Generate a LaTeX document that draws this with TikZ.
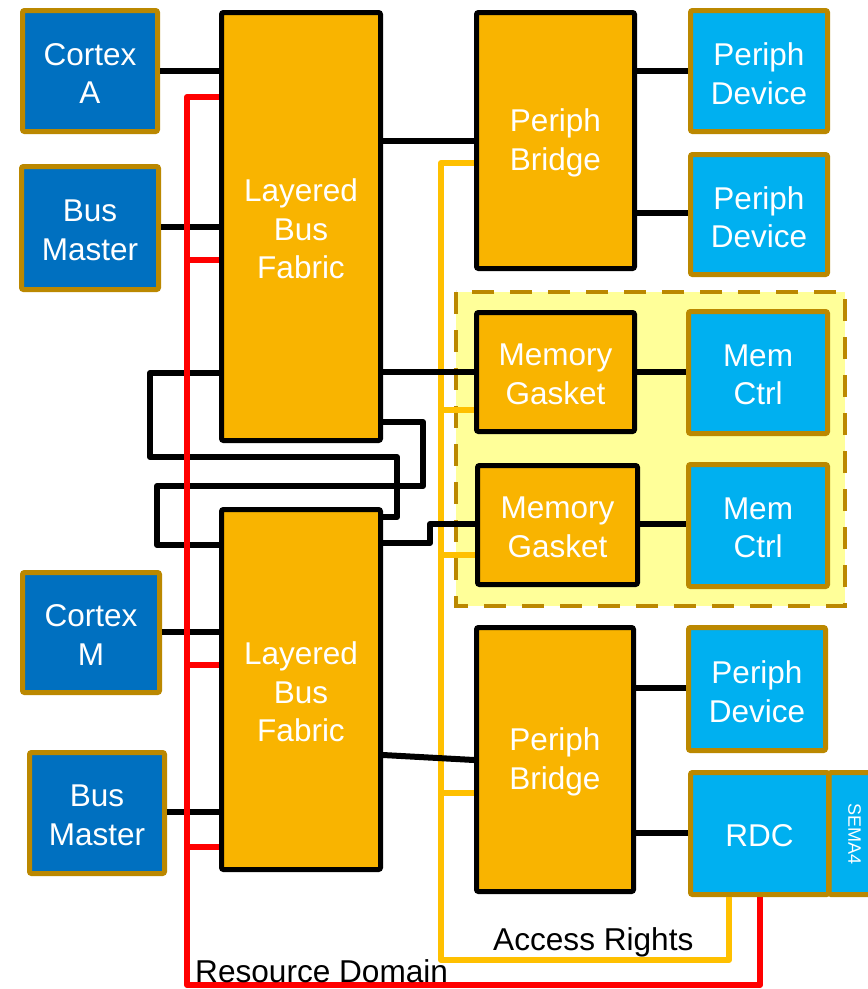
\documentclass[tikz,border=0pt]{standalone}
\usepackage{fontspec}
\setmainfont{Liberation Sans}
\definecolor{cpublue}{HTML}{0070C0}
\definecolor{perblue}{HTML}{00B0F0}
\definecolor{orng}{HTML}{F9B400}
\definecolor{brn}{HTML}{BB8800}
\definecolor{ltyel}{HTML}{FFFF99}
\definecolor{accy}{HTML}{FFC000}
\newcommand{\bxfont}{\fontsize{31.5}{38.5}\selectfont}
\newcommand{\lbfont}{\fontsize{31.6}{36}\selectfont}
\newcommand{\smfont}{\fontsize{18}{20}\selectfont}
\begin{document}
\begin{tikzpicture}[x=1pt,y=-1pt,
  box/.style={line width=5pt, rounded corners=2pt, inner sep=0pt},
  bt/.style={align=center, font=\bxfont, text=white, inner sep=0pt, yshift=-2.5pt},
  cpu/.style={box, draw=brn, fill=cpublue},
  per/.style={box, draw=brn, fill=perblue},
  fab/.style={box, draw=black, fill=orng},
  bus/.style={draw=black, line width=6pt, line join=round},
  rd/.style={draw=red, line width=6pt, line join=round},
  ar/.style={draw=accy, line width=6pt, line join=round},
  lbl/.style={font=\lbfont, text=black, inner sep=0pt}]
\useasboundingbox (0,0) rectangle (868,989);
\clip (0,0) rectangle (868,989);
% memory region
\draw[draw=brn, fill=ltyel, line width=4pt, dash pattern=on 22pt off 16pt] (456,292) rectangle (845,606);
% boxes
\node[cpu, minimum width=135pt, minimum height=121pt, label={[bt]center:{Cortex\\A}}] (cA) at (90,71) {};
\node[cpu, minimum width=137pt, minimum height=123pt, label={[bt]center:{Bus\\Master}}] (bm1) at (90,228) {};
\node[fab, minimum width=159pt, minimum height=428pt, label={[bt]center:{Layered\\Bus\\Fabric}}] (lbf1) at (301,226.5) {};
\node[fab, minimum width=158pt, minimum height=256pt, label={[bt]center:{Periph\\Bridge}}] (pb1) at (555.5,140.5) {};
\node[per, minimum width=137pt, minimum height=121pt, label={[bt]center:{Periph\\Device}}] (pd1) at (759,71) {};
\node[per, minimum width=137pt, minimum height=120pt, label={[bt]center:{Periph\\Device}}] (pd2) at (759,214.5) {};
\node[fab, minimum width=158pt, minimum height=119pt, label={[bt]center:{Memory\\Gasket}}] (mg1) at (555.5,372) {};
\node[per, minimum width=139pt, minimum height=122pt, label={[bt]center:{Mem\\Ctrl}}] (mc1) at (758,372.5) {};
\node[fab, minimum width=160pt, minimum height=119pt, label={[bt]center:{Memory\\Gasket}}] (mg2) at (557.5,525) {};
\node[per, minimum width=139pt, minimum height=122pt, label={[bt]center:{Mem\\Ctrl}}] (mc2) at (758,525.5) {};
\node[cpu, minimum width=137pt, minimum height=120pt, label={[bt]center:{Cortex\\M}}] (cM) at (91,632.5) {};
\node[cpu, minimum width=135pt, minimum height=121pt, label={[bt]center:{Bus\\Master}}] (bm2) at (97,813) {};
\node[fab, minimum width=159pt, minimum height=360pt, label={[bt]center:{Layered\\Bus\\Fabric}}] (lbf2) at (301,689.5) {};
\node[fab, minimum width=157pt, minimum height=264pt, label={[bt]center:{Periph\\Bridge}}] (pb2) at (555,759.5) {};
\node[per, minimum width=137pt, minimum height=123pt, label={[bt]center:{Periph\\Device}}] (pd3) at (757,689) {};
\node[per, minimum width=51pt, minimum height=122pt] (sema) at (854.5,833.5) {};
\node[font=\smfont, text=white, rotate=-90, inner sep=0pt] (sematxt) at (sema.center) {SEMA4};
\node[per, minimum width=138pt, minimum height=122pt, label={[bt]center:{RDC}}] (rdc) at (759.5,833.5) {};
% access rights (yellow)
\draw[ar] (pb1.west |- 0,163) -- (441,163) -- (441,960) -- (729,960) -- (rdc.south -| 729,0);
\draw[ar] (441,410) -- (mg1.west |- 0,410);
\draw[ar] (441,555) -- (mg2.west |- 0,555);
\draw[ar] (441,793) -- (pb2.west |- 0,793);
% buses
\draw[bus] (cA.east) -- (cA.east -| lbf1.west);
\draw[bus] (bm1.east |- 0,227) -- (lbf1.west |- 0,227);
\draw[bus] (lbf1.east |- 0,141) -- (pb1.west |- 0,141);
\draw[bus] (pb1.east |- 0,71) -- (pd1.west |- 0,71);
\draw[bus] (pb1.east |- 0,213) -- (pd2.west |- 0,213);
\draw[bus] (lbf1.east |- 0,372) -- (mg1.west |- 0,372);
\draw[bus] (mg1.east |- 0,372) -- (mc1.west |- 0,372);
\draw[bus] (lbf1.west |- 0,373) -- (150,373) -- (150,457) -- (397,457) -- (397,517) -- (lbf2.east |- 0,517);
\draw[bus] (lbf1.east |- 0,422) -- (423,422) -- (423,486) -- (157,486) -- (157,545) -- (lbf2.west |- 0,545);
\draw[bus] (lbf2.east |- 0,543) -- (430,543) -- (430,524) -- (mg2.west |- 0,524);
\draw[bus] (mg2.east |- 0,524) -- (mc2.west |- 0,524);
\draw[bus] (cM.east |- 0,632) -- (lbf2.west |- 0,632);
\draw[bus] (bm2.east |- 0,812) -- (lbf2.west |- 0,812);
\draw[bus] (lbf2.east |- 0,755) -- (pb2.west |- 0,760);
\draw[bus] (pb2.east |- 0,688) -- (pd3.west |- 0,688);
\draw[bus] (pb2.east |- 0,833) -- (rdc.west |- 0,833);
% resource domain (red)
\draw[rd] (lbf1.west |- 0,97) -- (187,97) -- (187,985) -- (760,985) -- (rdc.south -| 760,0);
\draw[rd] (187,260) -- (lbf1.west |- 0,260);
\draw[rd] (187,665) -- (lbf2.west |- 0,665);
\draw[rd] (187,847) -- (lbf2.west |- 0,847);
% labels
\node[lbl, anchor=base west] (acc) at (493,950) {Access Rights};
\node[lbl, anchor=base west] (res) at (195,982) {Resource Domain};
\end{tikzpicture}
\end{document}
